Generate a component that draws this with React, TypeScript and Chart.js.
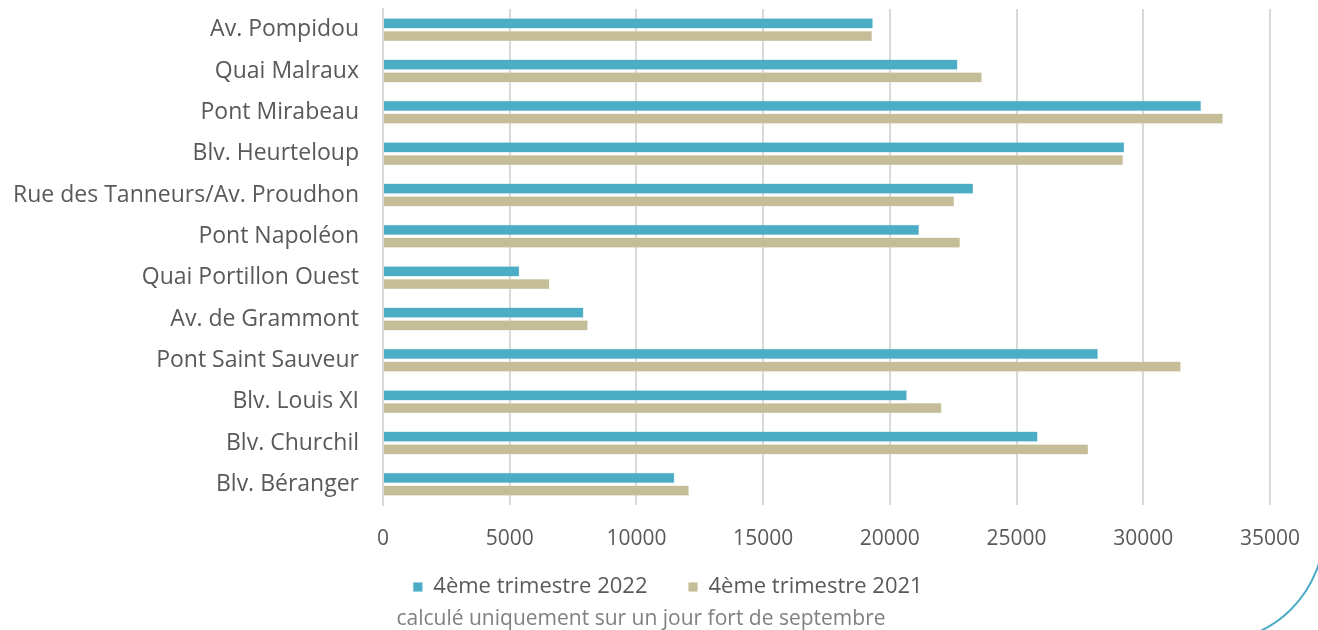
import React, { useEffect, useRef } from "react";
import { Chart, registerables } from "chart.js";

Chart.register(...registerables);

const categories: string[] = [
  "Av. Pompidou",
  "Quai Malraux",
  "Pont Mirabeau",
  "Blv. Heurteloup",
  "Rue des Tanneurs/Av. Proudhon",
  "Pont Napoléon",
  "Quai Portillon Ouest",
  "Av. de Grammont",
  "Pont Saint Sauveur",
  "Blv. Louis XI",
  "Blv. Churchil",
  "Blv. Béranger",
];

const series2022: number[] = [19330, 22670, 32280, 29250, 23290, 21150, 5380, 7910, 28210, 20670, 25830, 11500];
const series2021: number[] = [19300, 23630, 33140, 29200, 22540, 22770, 6570, 8080, 31480, 22040, 27830, 12070];

const seriesLabels: string[] = ["4ème trimestre 2022", "4ème trimestre 2021"];
const footnote = "calculé uniquement sur un jour fort de septembre";

const xMin = 0;
const xMax = 35000;
const xStep = 5000;

const FONT = "'Open Sans', sans-serif";

export default function App() {
  const canvasRef = useRef<HTMLCanvasElement | null>(null);

  useEffect(() => {
    const canvas = canvasRef.current;
    if (!canvas) return;

    const extras = {
      id: "extras",
      afterLayout(chart: any) {
        const lg = chart.legend;
        if (lg) {
          lg.top -= 20;
          lg.bottom -= 20;
          lg.left += 33;
          lg.right += 33;
        }
      },
      afterDraw(chart: any) {
        const ctx = chart.ctx;
        ctx.save();
        ctx.font = `21px ${FONT}`;
        ctx.fillStyle = "#808080";
        ctx.textAlign = "center";
        ctx.textBaseline = "middle";
        ctx.fillText(footnote, 641, 619);
        ctx.beginPath();
        ctx.strokeStyle = "#4BACC6";
        ctx.lineWidth = 2;
        ctx.arc(1212, 530, 112, 0, Math.PI / 2);
        ctx.stroke();
        ctx.restore();
      },
    };

    const chart = new Chart(canvas, {
      type: "bar",
      data: {
        labels: categories,
        datasets: [
          {
            label: seriesLabels[0],
            data: series2022,
            backgroundColor: "#4BACC6",
            borderColor: "#86C8DA",
            borderWidth: 0.5,
            categoryPercentage: 0.62,
            barPercentage: 0.8,
          },
          {
            label: seriesLabels[1],
            data: series2021,
            backgroundColor: "#C4BD97",
            borderColor: "#DAD5BD",
            borderWidth: 0.5,
            categoryPercentage: 0.62,
            barPercentage: 0.8,
          },
        ],
      },
      options: {
        indexAxis: "y",
        responsive: false,
        animation: false,
        maintainAspectRatio: false,
        layout: { padding: { top: 9, right: 48, left: 0, bottom: 15 } },
        scales: {
          x: {
            min: xMin,
            max: xMax,
            ticks: {
              stepSize: xStep,
              color: "#595959",
              font: { family: FONT, size: 21 },
              padding: 21,
              maxRotation: 0,
              callback: (v: any) => String(v),
            },
            grid: { color: "#d9d9d9", lineWidth: 2, drawTicks: false },
            border: { display: false },
            afterFit(scale: any) {
              scale.height = 50;
              scale.paddingLeft = 0;
              scale.paddingRight = 0;
            },
          },
          y: {
            ticks: {
              color: "#595959",
              font: { family: FONT, size: 23 },
              padding: 24,
            },
            grid: { display: false, drawTicks: false },
            border: { display: true, color: "#d9d9d9", width: 2 },
            afterFit(scale: any) {
              scale.width = 383;
              scale.paddingTop = 0;
              scale.paddingBottom = 0;
            },
          },
        },
        plugins: {
          legend: {
            position: "bottom",
            maxHeight: 60,
            labels: {
              boxWidth: 9,
              boxHeight: 9,
              padding: 41,
              color: "#595959",
              font: { family: FONT, size: 22 },
            },
          },
          tooltip: { enabled: false },
          title: { display: false },
        },
      },
      plugins: [extras],
    });

    return () => chart.destroy();
  }, []);

  return (
    <div style={{ position: "fixed", left: 0, top: 0, width: 1318, height: 630, background: "#ffffff" }}>
      <canvas ref={canvasRef} width={1318} height={630} style={{ width: 1318, height: 630 }} />
    </div>
  );
}
